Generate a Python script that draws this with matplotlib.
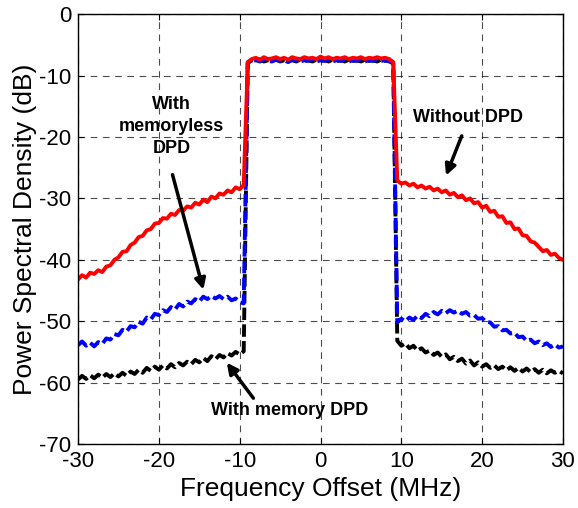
import numpy as np
import matplotlib
matplotlib.use('Agg')
import matplotlib.pyplot as plt

plt.rcParams['font.family'] = ['Liberation Sans', 'DejaVu Sans']
plt.rcParams['axes.unicode_minus'] = False

# frequency grid (MHz), 0.5 MHz steps
freq = np.arange(-30, 30.01, 0.5)

# without DPD (red)
red_left = [-43.2, -42.5, -42.9, -42.1, -42.3, -41.7, -42.0, -41.1, -40.9, -40.0,
            -39.6, -38.7, -38.6, -37.6, -37.2, -36.3, -36.1, -35.2, -35.0, -34.1,
            -34.0, -33.2, -33.3, -32.5, -32.7, -31.9, -32.0, -31.3, -31.5, -30.7,
            -31.0, -30.2, -30.6, -29.7, -30.0, -29.2, -29.4, -28.7, -29.0, -28.2,
            -28.5, -27.8]
red_in = [-7.8, -7.3, -7.1, -7.4, -7.0, -7.3, -7.2, -7.0, -7.3, -7.1,
          -7.4, -7.0, -7.2, -7.3, -7.0, -7.2, -7.1, -7.3, -6.9, -7.2,
          -7.0, -7.3, -7.1, -7.2, -7.0, -7.3, -7.1, -7.2, -7.0, -7.3,
          -7.1, -7.2, -7.0, -7.2, -7.1, -7.3, -7.8]
red_right = [-27.1, -27.6, -27.4, -27.9, -27.6, -28.2, -27.9, -28.4, -28.1, -28.7,
             -28.4, -29.0, -28.7, -29.4, -29.1, -29.8, -29.5, -30.3, -30.0, -30.8,
             -30.6, -31.5, -31.2, -32.2, -32.0, -33.0, -32.9, -34.0, -33.9, -35.0,
             -34.9, -36.0, -36.1, -37.0, -37.2, -37.9, -38.6, -38.4, -39.2, -39.0,
             -39.7, -40.0]

# with memoryless DPD (blue)
blue_left = [-53.9, -53.3, -54.0, -53.5, -54.1, -53.4, -53.7, -52.8, -53.0, -52.1,
             -52.3, -51.4, -51.7, -50.8, -51.0, -50.1, -50.4, -49.4, -49.7, -48.8,
             -49.0, -48.2, -48.5, -47.7, -48.1, -47.2, -47.6, -46.8, -47.1, -46.4,
             -46.8, -46.0, -46.4, -45.9, -46.3, -45.9, -46.4, -46.0, -46.6, -46.3,
             -46.9, -47.1]
blue_in = [-7.9, -7.6, -7.5, -7.7, -7.4, -7.6, -7.7, -7.4, -7.6, -7.5,
           -7.8, -7.4, -7.6, -7.7, -7.5, -7.6, -7.4, -7.7, -7.5, -7.6,
           -7.4, -7.7, -7.5, -7.6, -7.4, -7.7, -7.5, -7.6, -7.4, -7.7,
           -7.5, -7.6, -7.4, -7.6, -7.5, -7.7, -8.0]
blue_right = [-50.2, -49.6, -50.0, -49.4, -49.8, -49.1, -49.5, -48.8, -49.2, -48.5,
              -48.9, -48.3, -48.7, -48.2, -48.6, -48.3, -48.8, -48.5, -49.1, -49.0,
              -49.6, -49.5, -50.1, -50.2, -50.9, -50.8, -51.5, -51.4, -52.0, -51.9,
              -52.6, -52.5, -53.2, -53.0, -53.6, -53.3, -53.9, -53.6, -54.2, -53.8,
              -54.3, -54.1]

# with memory DPD (black)
black_left = [-59.5, -58.9, -59.4, -58.8, -59.3, -58.7, -59.2, -58.6, -59.1, -58.5,
              -59.0, -58.4, -58.9, -58.2, -58.6, -57.9, -58.4, -57.6, -58.1, -57.4,
              -57.9, -57.2, -57.7, -57.0, -57.5, -56.8, -57.2, -56.6, -57.0, -56.3,
              -56.7, -56.0, -56.5, -55.7, -56.2, -55.5, -55.9, -55.2, -55.6, -55.0,
              -55.4, -54.9]
black_in = [-7.9, -7.5, -7.6, -7.4, -7.7, -7.5, -7.6, -7.4, -7.7, -7.5,
            -7.6, -7.5, -7.7, -7.4, -7.6, -7.5, -7.7, -7.4, -7.6, -7.5,
            -7.7, -7.4, -7.6, -7.5, -7.7, -7.4, -7.6, -7.5, -7.7, -7.4,
            -7.6, -7.5, -7.7, -7.4, -7.6, -7.5, -8.0]
black_right = [-53.2, -54.0, -53.6, -54.4, -54.0, -54.8, -54.4, -55.1, -54.8, -55.5,
               -55.1, -55.8, -55.4, -56.2, -55.8, -56.5, -56.1, -56.9, -56.4, -57.2,
               -56.7, -57.4, -57.0, -57.6, -57.2, -57.8, -57.4, -58.0, -57.5, -58.1,
               -57.6, -58.2, -57.7, -58.3, -57.8, -58.4, -57.9, -58.5, -58.0, -58.4,
               -58.1, -58.5]

psd_red = np.array(red_left + red_in + red_right)
psd_blue = np.array(blue_left + blue_in + blue_right)
psd_black = np.array(black_left + black_in + black_right)

fig = plt.figure(figsize=(5.78, 5.08), dpi=100)
ax = fig.add_axes([0.135, 0.126, 0.839, 0.846])

ax.plot(freq, psd_black, color='k', lw=2.8, ls='--', dashes=(3.2, 1.1))
ax.plot(freq, psd_blue, color='b', lw=2.8, ls='--', dashes=(3.2, 1.1))
ax.plot(freq, psd_red, color='r', lw=2.8)

ax.set_xlim(-30, 30)
ax.set_ylim(-70, 0)
ax.set_xticks(np.arange(-30, 31, 10))
ax.set_yticks(np.arange(-70, 1, 10))
ax.grid(True, color='k', lw=0.8, ls=(0, (6, 5)), alpha=0.7)
ax.tick_params(direction='in', top=True, right=True, length=4, labelsize=16)
ax.tick_params(axis='x', pad=5)
ax.tick_params(axis='y', pad=5)
for s in ax.spines.values():
    s.set_linewidth(1)

ax.set_xlabel('Frequency Offset (MHz)', fontsize=19, labelpad=4)
ax.set_ylabel('Power Spectral Density (dB)', fontsize=19, labelpad=1)

arr = dict(arrowstyle='-|>', color='k', lw=2.5, mutation_scale=16)
ax.text(-18.4, -18.3, 'With\nmemoryless\nDPD', ha='center', va='center',
        fontsize=13, fontweight='bold', linespacing=1.4)
ax.annotate('', xy=(-14.4, -45.3), xytext=(-18.4, -25.7), arrowprops=arr)
ax.text(18.3, -16.8, 'Without DPD', ha='center', va='center',
        fontsize=13, fontweight='bold')
ax.annotate('', xy=(15.4, -26.7), xytext=(17.6, -19.4), arrowprops=arr)
ax.text(-3.8, -64.5, 'With memory DPD', ha='center', va='center',
        fontsize=13, fontweight='bold')
ax.annotate('', xy=(-11.8, -56.4), xytext=(-8.1, -62.9), arrowprops=arr)

fig.savefig('out.png', dpi=100)
